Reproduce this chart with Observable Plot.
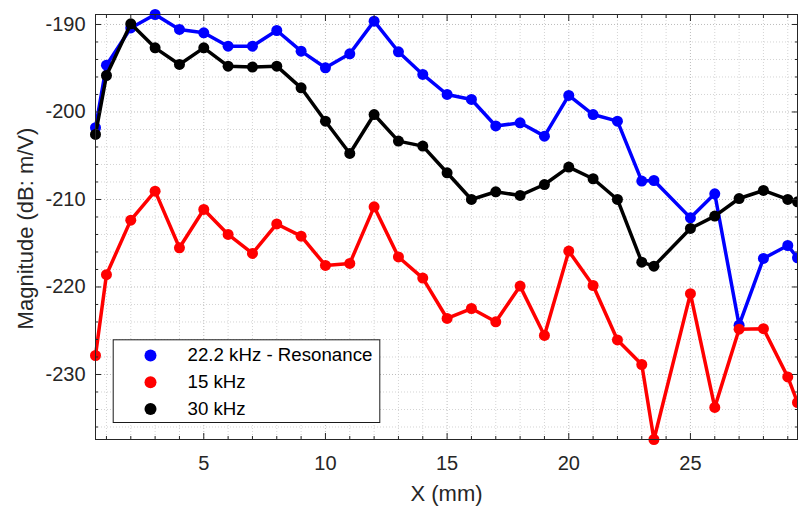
<!DOCTYPE html>
<html>
<head>
<meta charset="utf-8">
<script src="https://cdn.jsdelivr.net/npm/d3@7"></script>
<script src="https://cdn.jsdelivr.net/npm/@observablehq/plot@0.6"></script>
<style>
  body { margin: 0; background: #ffffff; }
  #chart svg { display: block; }
</style>
</head>
<body>
<div id="chart"></div>
<script>
// ---- Data ----
const xPositions = [0.55, 1, 2, 3, 4, 5, 6, 7, 8, 9, 10, 11, 12, 13, 14, 15, 16, 17, 18, 19, 20, 21, 22, 23, 23.5, 25, 26, 27, 28, 29, 29.4];

const seriesNames = ["22.2 kHz - Resonance", "15 kHz", "30 kHz"];
const seriesColors = ["#0000ff", "#ff0000", "#000000"];

const resonance22kHz = [-201.8, -194.65, -190.4, -188.86, -190.57, -190.95, -192.48, -192.48, -190.69, -193.05, -194.95, -193.35, -189.62, -193.12, -195.71, -198.0, -198.57, -201.6, -201.24, -202.76, -198.11, -200.29, -201.05, -207.9, -207.83, -212.1, -209.35, -224.36, -216.74, -215.26, -216.67];

const freq15kHz = [-227.83, -218.6, -212.36, -209.05, -215.52, -211.14, -214.0, -216.17, -212.8, -214.19, -217.54, -217.31, -210.84, -216.57, -218.98, -223.6, -222.46, -223.98, -219.9, -225.54, -215.9, -219.83, -226.05, -228.86, -237.43, -220.76, -233.76, -224.82, -224.76, -230.28, -233.2];

const freq30kHz = [-202.57, -195.83, -189.92, -192.67, -194.57, -192.67, -194.76, -194.87, -194.76, -197.24, -201.05, -204.74, -200.29, -203.33, -203.9, -206.95, -210.0, -209.12, -209.54, -208.29, -206.3, -207.63, -210.0, -217.16, -217.62, -213.31, -211.9, -209.89, -208.97, -210.0, -210.27];

const xMajorTicks = [5, 10, 15, 20, 25];
const xMinorTicks = [1, 2, 3, 4, 6, 7, 8, 9, 11, 12, 13, 14, 16, 17, 18, 19, 21, 22, 23, 24, 26, 27, 28, 29];
const yMajorTicks = [-230, -220, -210, -200, -190];
const yMinorTicks = [-236, -234, -232, -228, -226, -224, -222, -218, -216, -214, -212, -208, -206, -204, -202, -198, -196, -194, -192];

const xLabel = "X (mm)";
const yLabel = "Magnitude (dB: m/V)";

// ---- Build table ----
const seriesValues = [resonance22kHz, freq15kHz, freq30kHz];
const table = seriesNames.flatMap((name, s) =>
  xPositions.map((x, i) => ({series: name, x, y: seriesValues[s][i]}))
);

const xDomain = d3.extent(xPositions);
const yDomain = d3.extent(table, d => d.y);

const axisColor = "#262626";
const font = "'Liberation Sans', Arial, Helvetica, sans-serif";

const seriesMarks = seriesNames.flatMap((name, s) => {
  const rows = table.filter(d => d.series === name);
  return [
    Plot.line(rows, {x: "x", y: "y", stroke: seriesColors[s], strokeWidth: 3.5}),
    Plot.dot(rows, {x: "x", y: "y", fill: seriesColors[s], r: 5.5})
  ];
});

const legendMarks = seriesNames.flatMap((name, s) => [
  Plot.dot([name], {frameAnchor: "top-left", dx: 55, dy: 341 + 26.7 * s, fill: seriesColors[s], r: 6}),
  Plot.text([name], {frameAnchor: "top-left", dx: 92, dy: 341 + 26.7 * s, text: d => d, textAnchor: "start", lineAnchor: "middle", fontSize: 18.7, fill: "#000000"})
]);

const chart = Plot.plot({
  width: 798,
  height: 506,
  marginLeft: 95,
  marginRight: 1,
  marginTop: 14,
  marginBottom: 67,
  style: {fontFamily: font, fontSize: "20px", background: "#ffffff", color: axisColor},
  x: {domain: xDomain},
  y: {domain: yDomain},
  marks: [
    // grid
    Plot.gridX(xMinorTicks, {stroke: "#d4d4d4", strokeOpacity: 1, strokeDasharray: "1,2"}),
    Plot.gridY(yMinorTicks, {stroke: "#d4d4d4", strokeOpacity: 1, strokeDasharray: "1,2"}),
    Plot.gridX(xMajorTicks, {stroke: "#bdbdbd", strokeOpacity: 1, strokeDasharray: "1,2"}),
    Plot.gridY(yMajorTicks, {stroke: "#bdbdbd", strokeOpacity: 1, strokeDasharray: "1,2"}),
    // data
    ...seriesMarks,
    // box
    Plot.frame({stroke: axisColor}),
    // inward ticks (major + minor, all four sides)
    Plot.axisX(xMajorTicks, {anchor: "bottom", tickSize: -6, fill: "none", label: null, stroke: axisColor}),
    Plot.axisX(xMajorTicks, {anchor: "top", tickSize: -6, fill: "none", label: null, stroke: axisColor}),
    Plot.axisX(xMinorTicks, {anchor: "bottom", tickSize: -3, fill: "none", label: null, stroke: axisColor}),
    Plot.axisX(xMinorTicks, {anchor: "top", tickSize: -3, fill: "none", label: null, stroke: axisColor}),
    Plot.axisY(yMajorTicks, {anchor: "left", tickSize: -6, fill: "none", label: null, stroke: axisColor}),
    Plot.axisY(yMajorTicks, {anchor: "right", tickSize: -6, fill: "none", label: null, stroke: axisColor}),
    Plot.axisY(yMinorTicks, {anchor: "left", tickSize: -3, fill: "none", label: null, stroke: axisColor}),
    Plot.axisY(yMinorTicks, {anchor: "right", tickSize: -3, fill: "none", label: null, stroke: axisColor}),
    // tick labels
    Plot.axisX(xMajorTicks, {anchor: "bottom", tickSize: 0, tickPadding: 16, label: null, fontSize: 20, fill: axisColor, tickFormat: d => String(d)}),
    Plot.axisY(yMajorTicks, {anchor: "left", tickSize: 0, tickPadding: 10, label: null, fontSize: 20, fill: axisColor, tickFormat: d => String(d)}),
    // axis titles
    Plot.text([xLabel], {frameAnchor: "bottom", dy: 54, text: d => d, fontSize: 22, lineAnchor: "middle", textAnchor: "middle", fill: axisColor}),
    Plot.text([yLabel], {frameAnchor: "left", dx: -70, dy: 1.5, rotate: -90, text: d => d, fontSize: 22, lineAnchor: "middle", textAnchor: "middle", fill: axisColor}),
    // legend
    Plot.frame({insetLeft: 17.7, insetTop: 325.3, insetRight: 417.7, insetBottom: 17, fill: "#ffffff", stroke: "#1a1a1a"}),
    ...legendMarks
  ]
});

document.getElementById("chart").appendChild(chart);
</script>
</body>
</html>
